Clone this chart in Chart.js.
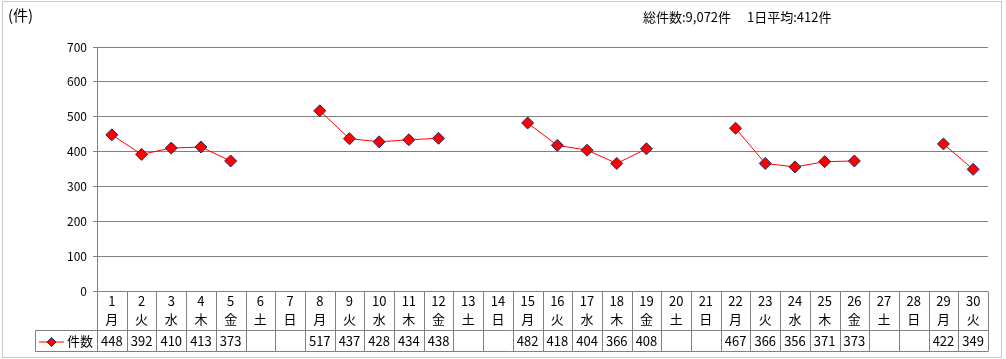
<!DOCTYPE html>
<html><head><meta charset="utf-8">
<script src="https://cdn.jsdelivr.net/npm/chart.js@4/dist/chart.umd.min.js"></script>
<style>html,body{margin:0;padding:0;background:#fff}canvas{display:block}</style>
</head><body>
<canvas id="c" width="1006" height="359"></canvas>
<script>
const days = ['1','2','3','4','5','6','7','8','9','10','11','12','13','14','15','16','17','18','19','20','21','22','23','24','25','26','27','28','29','30'];
const weekdays = ['月','火','水','木','金','土','日','月','火','水','木','金','土','日','月','火','水','木','金','土','日','月','火','水','木','金','土','日','月','火'];
const counts = [448,392,410,413,373,null,null,517,437,428,434,438,null,null,482,418,404,366,408,null,null,467,366,356,371,373,null,null,422,349];
const yTicks = [0,100,200,300,400,500,600,700];
const seriesName = '件数';
const unitLabel = '(件)';
const summaryText = '総件数:9,072件　 1日平均:412件';

const FONT = '"Noto Sans CJK JP", "Liberation Sans", sans-serif';

const tablePlugin = {
  id: 'tablePlugin',
  afterDraw(chart) {
    const ctx = chart.ctx;
    const x = chart.scales.x;
    const area = chart.chartArea;
    const n = days.length;
    const w = (area.right - area.left) / n;
    const top = Math.round(area.bottom) + 0.5;
    const mid = top + 39;
    const bot = top + 60;
    const legLeft = 35.5;
    ctx.save();
    ctx.strokeStyle = '#808080';
    ctx.lineWidth = 1;
    ctx.beginPath();
    ctx.moveTo(legLeft, mid); ctx.lineTo(area.right, mid);
    ctx.moveTo(legLeft, bot); ctx.lineTo(area.right, bot);
    ctx.moveTo(legLeft, mid); ctx.lineTo(legLeft, bot);
    for (let i = 0; i <= n; i++) {
      const bx = Math.round(area.left + i * w) + 0.5;
      ctx.moveTo(bx, top); ctx.lineTo(bx, bot);
    }
    ctx.stroke();
    ctx.fillStyle = '#000';
    ctx.font = '13px ' + FONT;
    ctx.textAlign = 'center';
    ctx.textBaseline = 'middle';
    for (let i = 0; i < n; i++) {
      const cx = x.getPixelForValue(i);
      ctx.fillText(days[i], cx, top + 10);
      ctx.fillText(weekdays[i], cx, top + 28);
      if (counts[i] !== null) ctx.fillText(String(counts[i]), cx, mid + 11);
    }
    // legend
    ctx.strokeStyle = '#ff0000';
    ctx.beginPath();
    ctx.moveTo(39, mid + 11.5); ctx.lineTo(64, mid + 11.5);
    ctx.stroke();
    ctx.fillStyle = '#ff0000';
    ctx.strokeStyle = '#1f2a6b';
    ctx.beginPath();
    const dx = 51.5, dy = mid + 11.5, r = 4.5;
    ctx.moveTo(dx, dy - r); ctx.lineTo(dx + r, dy); ctx.lineTo(dx, dy + r); ctx.lineTo(dx - r, dy); ctx.closePath();
    ctx.fill(); ctx.stroke();
    ctx.fillStyle = '#000';
    ctx.textAlign = 'left';
    ctx.fillText(seriesName, 67, mid + 11);
    // texts
    ctx.font = '15px ' + FONT;
    ctx.fillText(unitLabel, 8, 15);
    ctx.font = '13px ' + FONT;
    ctx.fillText(summaryText, 643, 17);
    // frame
    ctx.strokeStyle = '#909090';
    ctx.setLineDash([1, 1]);
    ctx.strokeRect(2.5, 1.5, 999, 356);
    ctx.restore();
  }
};

new Chart(document.getElementById('c'), {
  type: 'line',
  data: {
    labels: days,
    datasets: [{
      label: seriesName,
      data: counts,
      borderColor: '#ff0000',
      borderWidth: 1,
      backgroundColor: '#ff0000',
      pointStyle: 'rectRot',
      pointRadius: 6,
      pointBorderColor: '#1f2a6b',
      pointBorderWidth: 1,
      pointBackgroundColor: '#ff0000',
      spanGaps: false,
      tension: 0
    }]
  },
  options: {
    responsive: false,
    animation: false,
    devicePixelRatio: 1,
    layout: { padding: { left: 0, top: 47, right: 18, bottom: 68 } },
    plugins: { legend: { display: false }, tooltip: { enabled: false } },
    scales: {
      x: { type: 'category', display: false, offset: true },
      y: {
        min: 0, max: 700,
        afterFit(s) { s.width = 97; },
        afterBuildTicks(s) { s.ticks = yTicks.map(v => ({ value: v })); },
        grid: { color: '#808080', tickLength: 4, lineWidth: 1 },
        border: { color: '#808080' },
        ticks: { color: '#000', font: { size: 12, family: FONT }, padding: 6 }
      }
    }
  },
  plugins: [tablePlugin]
});
</script>
</body></html>
